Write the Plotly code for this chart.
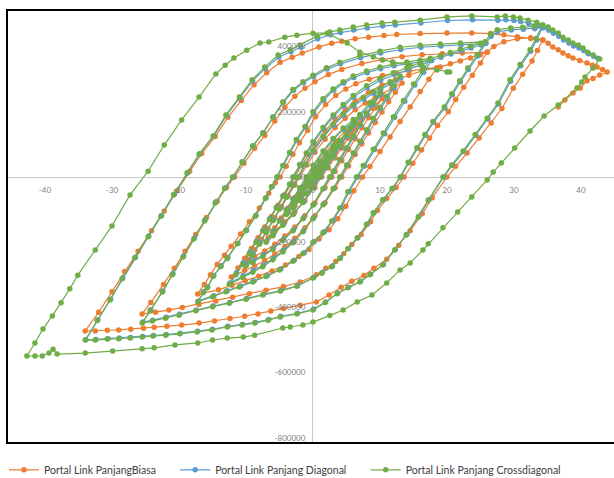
import plotly.graph_objects as go

# ---------------- data (displacement, force) ----------------
x_biasa = [0,1.3,2.3,1.5,0.6,-0.7,-1.7,-0.9,0,1.3,2.3,3.3,4.3,
 3.3,2.3,1.3,0.3,-0.7,-1.7,-2.7,-3.7,
 -2.7,-1.7,-0.7,0.3,1.3,2.3,3.3,4.3,
 5.8,7.3,
 6.3,5.3,4.3,3.3,2.3,1.3,0.3,-1.2,-2.7,-4.2,-5.7,-6.7,
 -5.7,-4.7,-3.7,-2.7,-1.7,-0.7,0.3,1.8,3.3,4.8,6.3,7.3,
 8.8,10.3,
 9.3,8.3,7.3,6.3,5.3,4.3,3.3,2.8,1.8,0.3,-1.2,-2.7,-4.2,-5.7,-7.2,-8.7,-9.7,
 -8.7,-7.7,-6.7,-5.7,-4.7,-3.7,-2.7,-2,-0.9,0.3,1.8,3.3,4.8,6.3,7.8,9.3,10.3,
 11.8,13.3,
 12.3,11.3,10.3,9.3,8.3,7.3,6.3,5.3,4.3,3.3,1.8,0.3,-1.2,-2.7,-4.2,-5.7,-7.2,-8.7,-10.2,-12.2,
 -11.2,-10.2,-9.2,-8.2,-7.2,-6.2,-5.2,-4.2,-3.2,-2.7,-1.7,-0.7,0.3,1.8,3.3,4.8,6.3,8.3,10.3,12.3,14.3,16.3,18.5,
 17.3,16,14.5,13,11.5,10,8.5,7.4,6.1,4.9,3.7,2.4,0.9,-0.6,-2.1,-4.1,-6.1,-8.1,-10.1,-12.1,-14.1,-17.2,
 -16.2,-15.3,-14.3,-13.2,-12.2,-10.8,-9.5,-8,-6.6,-5.6,-4.9,-4,-3,-2,-0.8,0.4,1.9,3.4,4.9,6.4,8.4,10.4,12.4,14.4,16.4,19,
 20.5,22,23.5,25,26,
 25,23.8,22.5,21.3,20.2,18.6,17.4,16.2,14.9,13.6,12.4,11,9.6,8.6,7.2,5.8,4.6,3.4,1.9,0.5,-1.9,-4.4,-7,-9.5,-12,-14.5,-17,-19.5,-21.5,-23.5,-25.5,
 -24.2,-22.3,-20.7,-19.1,-17.5,-15.9,-14.3,-12.9,-11.7,-10.3,-8.7,-7.2,-5.7,-4.2,-2.7,-1.2,0.3,2.3,4.3,7.3,10.3,13.3,16.3,19.3,22.3,26,
 27,28.5,30.5,32.5,34.3,
 33.5,32.7,31.3,29.9,28.2,26.6,24.8,23,21.3,20,17.8,16.3,14.5,12.8,11,9.1,7.6,5.8,4.2,2.4,0.5,-1.9,-4.4,-6.3,-8.2,-10.2,-12.4,-14.7,-17,-19.6,-21.8,-23.7,-25.3,-27.2,-29,-30.7,-32.5,-34,
 -32,-30,-28.1,-26.1,-24.1,-22.2,-20.3,-18.4,-16.6,-14.6,-12.7,-10.7,-8.8,-6.9,-4.9,-3.1,-1.6,0.9,2.8,4.3,6.3,8.3,10.6,12.5,16,20,23.7,26.5,28.5,30.5,32.5,34.3,
 35.1,35.8,36.6,37.3,38.1,38.8,39.8,40.9,41.7,42.4,43.2,43.9,
 42.8,41.8,40.9,39.9,38.8,37.6,36.6]
y_biasa = [0,25000,52000,28000,0,-27000,-54000,-26000,0,27000,52000,78000,102000,
 74000,45000,13000,-20000,-47000,-67000,-88000,-107000,
 -80000,-48000,-15000,19000,45000,67000,89000,104000,
 140000,177000,
 149000,119000,88000,58000,28000,0,-32000,-73000,-107000,-138000,-167000,-186000,
 -156000,-126000,-95000,-63000,-32000,0,33000,74000,110000,140000,164000,179000,
 212000,240000,
 212000,182000,151000,117000,84000,50000,17000,0,-33000,-80000,-119000,-153000,-181000,-206000,-227000,-244000,-253000,
 -223000,-192000,-158000,-125000,-91000,-58000,-24000,0,37000,76000,116000,151000,180000,206000,227000,244000,253000,
 272000,288000,
 260000,231000,199000,167000,135000,102000,69000,34000,0,-33000,-79000,-119000,-156000,-188000,-214000,-236000,-256000,-272000,-286000,-307000,
 -279000,-249000,-219000,-186000,-153000,-121000,-87000,-54000,-20000,0,35000,69000,100000,141000,177000,206000,233000,260000,282000,298000,312000,326000,335000,
 300000,262000,215000,170000,123000,78000,32000,0,-42000,-90000,-128000,-162000,-190000,-222000,-244000,-270000,-288000,-304000,-318000,-332000,-346000,-359000,
 -330000,-300000,-268000,-240000,-212000,-175000,-137000,-95000,-50000,-18000,0,33000,70000,105000,143000,185000,222000,250000,270000,286000,300000,311000,319000,326000,331000,337000,
 347000,356000,365000,375000,383000,
 350000,312000,275000,238000,200000,158000,120000,83000,42000,0,-32000,-66000,-103000,-137000,-176000,-207000,-235000,-259000,-280000,-300000,-322000,-336000,-347000,-358000,-369000,-380000,-391000,-400000,-408000,-415000,-420000,
 -385000,-330000,-280000,-228000,-176000,-124000,-74000,-32000,0,42000,88000,127000,172000,214000,248000,272000,292000,314000,330000,348000,360000,369000,375000,378000,380000,383000,
 400000,415000,424000,427000,420000,
 388000,356000,315000,272000,210000,166000,120000,74000,33000,0,-64000,-113000,-165000,-209000,-252000,-280000,-302000,-320000,-338000,-362000,-383000,-393000,-403000,-411000,-420000,-427000,-434000,-442000,-448000,-454000,-458000,-461000,-464000,-467000,-469000,-470000,-472000,-472000,
 -415000,-352000,-290000,-228000,-165000,-104000,-42000,18000,72000,124000,183000,235000,283000,320000,352000,367000,380000,399000,410000,416000,424000,429000,434000,437000,440000,442000,442000,440000,436000,430000,425000,420000,
 410000,399000,390000,380000,372000,365000,357000,350000,343000,337000,330000,322000,
 313000,302000,295000,273000,258000,236000,215000]

x_diagonal = [0,1.1,2.1,1.3,0.4,-0.9,-1.9,-1.1,-0.2,1.1,2.1,3.1,4.1,
 3.1,2.1,1.1,0.1,-0.9,-1.9,-2.9,-3.9,
 -2.9,-1.9,-0.9,0.1,1.1,2.1,3.1,4.1,
 5.6,7.1,
 6.1,5.1,4.1,3.1,2.1,1.1,0.1,-1.4,-2.9,-4.4,-5.9,-6.9,
 -5.9,-4.9,-3.9,-2.9,-1.9,-0.9,0.1,1.6,3.1,4.6,6.1,7.1,
 8.6,10.1,
 9.1,8.1,7.1,6.1,5.1,4.1,3.1,2.6,1.6,0.1,-1.4,-2.9,-4.4,-5.9,-7.4,-8.9,-9.9,
 -8.9,-7.9,-6.9,-5.9,-4.9,-3.9,-2.9,-2.2,-1.1,0.1,1.6,3.1,4.6,6.1,7.6,9.1,10.1,
 11.6,13.1,
 12.1,11.1,10.1,9.1,8.1,7.1,6.1,5.1,4.1,3.1,1.6,0.1,-1.4,-2.9,-4.4,-5.9,-7.4,-8.9,-10.4,-12.4,
 -11.4,-10.4,-9.4,-8.4,-7.4,-6.4,-5.4,-4.4,-3.4,-2.9,-1.9,-0.9,0.1,1.6,3.1,4.6,6.1,8.1,10.1,12.1,14.1,16.1,17.7,
 16.5,15.2,13.7,12.2,10.7,9.2,7.7,6.7,5.4,4.2,3,1.7,0.2,-1.3,-2.8,-4.8,-6.8,-8.8,-10.8,-12.8,-14.8,-17.1,
 -16.3,-15.7,-14.8,-13.7,-12.7,-11.2,-9.9,-8.5,-7,-6.1,-5.3,-4.4,-3.4,-2.4,-1.1,0.1,1.6,3.1,4.6,6.1,8.1,10.1,12.1,14.1,16.1,17.7,
 19.1,20.6,22.1,23.6,25.1,25.8,
 24.6,23.2,22,20.8,19.7,18,16.8,15.6,14.3,13.1,11.9,10.5,9.1,8.1,6.7,5.3,4.1,2.9,1.4,0.1,-2.3,-4.8,-7.4,-9.9,-12.4,-14.9,-17.4,-19.9,-21.9,-23.9,-25.4,
 -24.2,-22.4,-20.9,-19.3,-17.7,-16.1,-14.5,-13.1,-11.9,-10.5,-8.9,-7.4,-5.9,-4.4,-2.9,-1.4,0.1,2.1,4.1,7.1,10.1,13.1,16.1,19.1,22.1,25.8,
 26.6,27.6,29.6,31.4,33.1,34.2,
 33.4,32.5,31,29.5,27.7,26.1,24.3,22.5,20.8,19.5,17.3,15.8,14,12.3,10.5,8.6,7.1,5.3,3.7,1.9,0.1,-2.3,-4.8,-6.6,-8.6,-10.5,-12.7,-15,-17.2,-19.8,-21.9,-23.8,-25.4,-27.2,-28.9,-30.6,-32.4,-33.9,
 -32.1,-30.2,-28.4,-26.5,-24.5,-22.6,-20.7,-18.7,-16.9,-14.8,-12.9,-10.9,-9,-7.1,-5.1,-3.3,-1.8,0.7,2.6,4.1,6.1,8.1,10.4,12.3,16.1,20.1,23.8,27.6,28.8,30,31,32.2,33.5,34.4,
 35.2,35.9,36.7,37.4,38.2,38.9,39.7,40.4,41.1,41.9,42.5]
y_diagonal = [0,27000,55000,29000,0,-29000,-57000,-27000,0,29000,55000,82000,108000,
 78000,47000,14000,-21000,-49000,-70000,-93000,-113000,
 -84000,-51000,-16000,20000,47000,70000,94000,110000,
 147000,186000,
 157000,125000,93000,61000,29000,0,-33000,-76000,-113000,-145000,-176000,-196000,
 -165000,-132000,-100000,-67000,-33000,0,35000,78000,116000,147000,172000,188000,
 223000,253000,
 223000,192000,159000,123000,88000,53000,18000,0,-35000,-84000,-125000,-162000,-191000,-218000,-239000,-257000,-267000,
 -235000,-202000,-167000,-131000,-96000,-61000,-25000,0,39000,80000,123000,159000,190000,218000,239000,257000,267000,
 286000,304000,
 274000,243000,210000,176000,142000,108000,73000,36000,0,-35000,-83000,-125000,-165000,-198000,-225000,-249000,-270000,-286000,-302000,-325000,
 -294000,-263000,-230000,-196000,-162000,-127000,-92000,-57000,-22000,0,37000,72000,106000,149000,186000,218000,245000,274000,297000,314000,329000,344000,357000,
 321000,282000,232000,183000,133000,84000,34000,0,-45000,-94000,-134000,-168000,-198000,-232000,-255000,-282000,-302000,-319000,-334000,-349000,-364000,-380000,
 -352000,-337000,-302000,-272000,-247000,-203000,-163000,-118000,-64000,-30000,0,35000,74000,113000,153000,197000,236000,266000,288000,305000,320000,332000,341000,348000,353000,358000,
 367000,377000,387000,396000,405000,410000,
 371000,330000,292000,252000,212000,168000,128000,88000,44000,0,-35000,-70000,-110000,-145000,-186000,-219000,-248000,-273000,-293000,-308000,-333000,-348000,-360000,-373000,-385000,-396000,-408000,-421000,-430000,-439000,-445000,
 -407000,-350000,-297000,-242000,-187000,-132000,-77000,-33000,0,47000,96000,136000,184000,229000,266000,289000,308000,331000,347000,366000,380000,391000,398000,402000,405000,410000,
 432000,446000,451000,453000,455000,458000,
 420000,386000,341000,294000,224000,178000,128000,78000,36000,0,-70000,-121000,-176000,-222000,-268000,-298000,-320000,-338000,-356000,-383000,-405000,-418000,-427000,-437000,-446000,-452000,-458000,-467000,-473000,-479000,-483000,-486000,-489000,-492000,-494000,-496000,-498000,-499000,
 -438000,-375000,-310000,-246000,-181000,-118000,-53000,13000,71000,126000,189000,243000,295000,333000,368000,384000,398000,424000,436000,443000,451000,457000,463000,466000,472000,480000,482000,481000,482000,480000,477000,471000,465000,458000,
 450000,441000,432000,420000,411000,402000,396000,388000,378000,370000,364000]

x_cross = [0,1,2,1.2,0.3,-1,-2,-1.2,-0.3,1,2,3,4,
 3,2,1,0,-1,-2,-3,-4,
 -3,-2,-1,0,1,2,3,4,
 5.5,7,
 6,5,4,3,2,1,0,-1.5,-3,-4.5,-6,-7,
 -6,-5,-4,-3,-2,-1,0,1.5,3,4.5,6,7,
 8.5,10,
 9,8,7,6,5,4,3,2.5,1.5,0,-1.5,-3,-4.5,-6,-7.5,-9,-10,
 -9,-8,-7,-6,-5,-4,-3,-2.3,-1.2,0,1.5,3,4.5,6,7.5,9,10,
 11.5,13,
 12,11,10,9,8,7,6,5,4,3,1.5,0,-1.5,-3,-4.5,-6,-7.5,-9,-10.5,-12.5,
 -11.5,-10.5,-9.5,-8.5,-7.5,-6.5,-5.5,-4.5,-3.5,-3,-2,-1,0,1.5,3,4.5,6,8,10,12,14,16,17.5,
 16.3,15,13.5,12,10.5,9,7.5,6.5,5.2,4,2.8,1.5,0,-1.5,-3,-5,-7,-9,-11,-13,-15,-17.2,
 -16.4,-15.8,-14.9,-13.8,-12.8,-11.3,-10,-8.6,-7.1,-6.2,-5.4,-4.5,-3.5,-2.5,-1.2,0,1.5,3,4.5,6,8,10,12,14,16,17.5,
 19,20.5,22,23.5,25,25.7,
 24.5,23.1,21.9,20.7,19.6,17.9,16.7,15.5,14.2,13,11.8,10.4,9,8,6.6,5.2,4,2.8,1.3,0,-2.4,-4.9,-7.5,-10,-12.5,-15,-17.5,-20,-22,-24,-25.5,
 -24.3,-22.5,-21,-19.4,-17.8,-16.2,-14.6,-13.2,-12,-10.6,-9,-7.5,-6,-4.5,-3,-1.5,0,2,4,7,10,13,16,19,22,25.7,
 26.5,27.5,29.5,31.3,33,34.3,
 33.3,32.4,30.9,29.4,27.6,26,24.2,22.4,20.7,19.4,17.2,15.7,13.9,12.2,10.4,8.5,7,5.2,3.6,1.8,0,-2.4,-4.9,-6.7,-8.7,-10.6,-12.8,-15.1,-17.3,-19.9,-22,-23.9,-25.5,-27.3,-29,-30.7,-32.5,-34,
 -32.2,-30.3,-28.5,-26.6,-24.6,-22.7,-20.8,-18.8,-17,-14.9,-13,-11,-9.1,-7.2,-5.2,-3.4,-1.9,0.6,2.5,4,6,8,10.3,12.2,16,20,23.7,27.5,28.7,29.9,30.9,32.1,33.4,34.3,
 35.1,35.8,36.6,37.3,38.1,38.8,39.6,40.3,41,41.8,42.8,
 41.8,40.6,40.1,39.4,36.6,34.5,32.4,30.1,28.1,26.9,26,23.7,21.6,19.4,17.2,16.4,14.5,13,11,8.8,6.6,4.5,2.5,0,-1.5,-3.4,-4.5,-8.7,-10.4,-12.8,-15,-17.2,-20.6,-23.7,-25.5,-29.9,-34,-38.2,-38.8,-39.4,-40.4,-41.5,-42.7,
 -41.5,-40.3,-38.9,-37.6,-36.3,-35.1,-32.5,-30,-27.3,-24.6,-22.2,-19.6,-17,-14.5,-13.1,-11.8,-9.9,-7.9,-6.6,-4.2,-2.4,0,2.1,
 5.1,7,9,10.4,11.9,14.5,16.4,18.5,20,20.4]
y_cross = [0,28000,56000,30000,0,-30000,-58000,-28000,0,30000,56000,84000,110000,
 80000,48000,14000,-22000,-50000,-72000,-95000,-115000,
 -86000,-52000,-16000,20000,48000,72000,96000,112000,
 150000,190000,
 160000,128000,95000,62000,30000,0,-34000,-78000,-115000,-148000,-180000,-200000,
 -168000,-135000,-102000,-68000,-34000,0,36000,80000,118000,150000,176000,192000,
 228000,258000,
 228000,196000,162000,126000,90000,54000,18000,0,-36000,-86000,-128000,-165000,-195000,-222000,-244000,-262000,-272000,
 -240000,-206000,-170000,-134000,-98000,-62000,-26000,0,40000,82000,125000,162000,194000,222000,244000,262000,272000,
 292000,310000,
 280000,248000,214000,180000,145000,110000,74000,37000,0,-36000,-85000,-128000,-168000,-202000,-230000,-254000,-275000,-292000,-308000,-330000,
 -300000,-268000,-235000,-200000,-165000,-130000,-94000,-58000,-22000,0,38000,74000,108000,152000,190000,222000,250000,280000,303000,320000,335000,350000,362000,
 325000,285000,235000,185000,135000,85000,35000,0,-45000,-95000,-135000,-170000,-200000,-235000,-258000,-285000,-305000,-322000,-337000,-352000,-367000,-383000,
 -355000,-340000,-305000,-275000,-250000,-205000,-165000,-120000,-65000,-30000,0,35000,75000,115000,155000,200000,240000,270000,292000,310000,325000,337000,346000,353000,358000,364000,
 372000,382000,392000,401000,410000,415000,
 375000,334000,295000,255000,215000,170000,130000,90000,45000,0,-35000,-70000,-110000,-145000,-187000,-220000,-250000,-275000,-295000,-310000,-335000,-350000,-362000,-375000,-387000,-398000,-410000,-424000,-433000,-442000,-448000,
 -410000,-353000,-300000,-245000,-190000,-135000,-80000,-35000,0,46000,95000,135000,184000,230000,268000,292000,312000,335000,352000,372000,386000,398000,404000,408000,411000,415000,
 438000,452000,457000,459000,462000,466000,
 425000,390000,345000,298000,227000,180000,130000,80000,37000,0,-71000,-123000,-178000,-224000,-270000,-300000,-322000,-340000,-358000,-385000,-408000,-420000,-429000,-439000,-448000,-454000,-460000,-469000,-475000,-481000,-485000,-488000,-491000,-494000,-496000,-497000,-500000,-500000,
 -440000,-377000,-312000,-248000,-183000,-120000,-55000,12000,70000,126000,190000,245000,298000,337000,374000,390000,405000,432000,445000,451000,460000,466000,472000,475000,481000,491000,494000,491000,494000,491000,488000,481000,475000,466000,
 460000,451000,442000,429000,420000,411000,405000,396000,383000,374000,362000,
 334000,307000,291000,273000,221000,187000,141000,89000,43000,15000,-9000,-61000,-107000,-156000,-205000,-224000,-264000,-285000,-325000,-362000,-383000,-408000,-425000,-445000,-454000,-460000,-463000,-485000,-491000,-494000,-500000,-509000,-515000,-524000,-527000,-534000,-540000,-543000,-528000,-540000,-549000,-549000,-549000,
 -509000,-466000,-426000,-386000,-343000,-301000,-224000,-150000,-55000,18000,98000,175000,245000,316000,343000,365000,389000,411000,414000,429000,435000,441000,441000,
 411000,383000,368000,359000,353000,343000,337000,328000,322000,322000]

series_names = ["Portal Link PanjangBiasa", "Portal Link Panjang Diagonal",
                "Portal Link Panjang Crossdiagonal"]
series_colors = ["#ED7D31", "#5B9BD5", "#70AD47"]
legend_ids = ["legend", "legend2", "legend3"]
legend_x = [-0.005, 0.277, 0.591]

x_tickvals = [-40, -30, -20, -10, 0, 10, 20, 30, 40]
x_ticktext = ["-40", "-30", "-20", "-10", "0", "10", "20", "30", "40"]
y_tickvals = [400000, 200000, 0, -200000, -400000, -600000, -800000]
y_ticktext = ["400000", "200000", "0", "-200000", "-400000", "-600000", "-800000"]

# ---------------- figure ----------------
fig = go.Figure()
for xs, ys, name, col, lg in zip([x_biasa, x_diagonal, x_cross],
                                 [y_biasa, y_diagonal, y_cross],
                                 series_names, series_colors, legend_ids):
    fig.add_trace(go.Scatter(
        x=xs, y=ys, name=name, mode="lines+markers", legend=lg,
        line=dict(color=col, width=1.2),
        marker=dict(color=col, size=5.5, symbol="circle"),
    ))

X_RANGE = [-45.67, 44.93]
Y_RANGE = [-815800, 512200]

tick_font = dict(family="Lato, 'Open Sans', sans-serif", size=8, color="#7f7f7f")
legend_font = dict(family="Lato, 'Open Sans', sans-serif", size=10.5, color="#404040")

legend_layouts = {}
for lg, lx in zip(legend_ids, legend_x):
    legend_layouts[lg] = dict(orientation="h", x=lx, y=-0.062, xanchor="left",
                              yanchor="middle", font=legend_font, itemwidth=30,
                              bgcolor="rgba(0,0,0,0)")

fig.update_layout(
    width=614, height=478,
    margin=dict(l=7, r=0, t=10, b=35, autoexpand=False),
    paper_bgcolor="white", plot_bgcolor="white",
    showlegend=True,
    xaxis=dict(range=X_RANGE, showgrid=False, zeroline=True, zerolinecolor="#C8C8C8",
               zerolinewidth=1, showline=False, tickvals=x_tickvals, ticktext=x_ticktext,
               anchor="free", position=0.6143, ticks="outside", ticklen=5,
               tickcolor="rgba(0,0,0,0)", tickfont=tick_font, fixedrange=True),
    yaxis=dict(range=Y_RANGE, showgrid=False, zeroline=True, zerolinecolor="#C8C8C8",
               zerolinewidth=1, showline=False, tickvals=y_tickvals, ticktext=y_ticktext,
               anchor="free", position=0.5041, ticks="outside", ticklen=6,
               tickcolor="rgba(0,0,0,0)", tickfont=tick_font, fixedrange=True),
    shapes=[dict(type="rect", xref="paper", yref="paper", x0=0, y0=0, x1=1.05, y1=1,
                 line=dict(color="black", width=2), fillcolor="rgba(0,0,0,0)", layer="above")],
    **legend_layouts,
)

fig.write_html("out.html", config={"displayModeBar": False},
               post_script="document.body.style.margin='0px';")
